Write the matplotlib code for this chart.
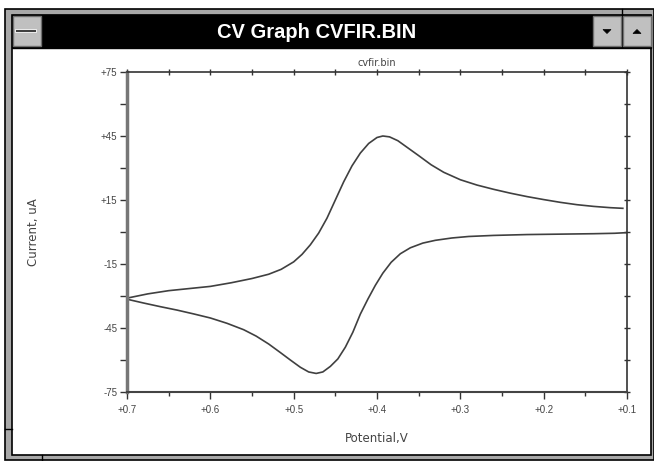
import matplotlib.pyplot as plt
from matplotlib.patches import Rectangle, Polygon
from matplotlib.ticker import FixedLocator, MultipleLocator

# Cyclic voltammogram, potential (V) vs current (uA)
upper_v = [0.700, 0.675, 0.650, 0.625, 0.600, 0.575, 0.550, 0.530, 0.515, 0.500,
           0.490, 0.480, 0.470, 0.460, 0.450, 0.440, 0.430, 0.420, 0.410, 0.400,
           0.393, 0.385, 0.375, 0.365, 0.350, 0.335, 0.320, 0.300, 0.280, 0.260,
           0.240, 0.220, 0.200, 0.180, 0.160, 0.140, 0.120, 0.105]
upper_i = [-31.0, -29.0, -27.5, -26.5, -25.5, -23.8, -21.8, -19.8, -17.5, -14.0,
           -10.5, -6.0, -0.5, 6.5, 15.0, 23.5, 31.0, 37.0, 41.5, 44.3,
           45.0, 44.6, 42.8, 40.0, 35.8, 31.5, 28.0, 24.5, 22.0, 20.0,
           18.2, 16.6, 15.2, 13.9, 12.8, 12.0, 11.4, 11.1]
lower_v = [0.100, 0.115, 0.140, 0.180, 0.220, 0.260, 0.290, 0.310, 0.330, 0.345,
           0.360, 0.372, 0.383, 0.393, 0.402, 0.411, 0.420, 0.429, 0.438, 0.447,
           0.456, 0.465, 0.473, 0.482, 0.492, 0.504, 0.516, 0.530, 0.545, 0.560,
           0.580, 0.600, 0.620, 0.640, 0.660, 0.680, 0.700]
lower_i = [-0.3, -0.6, -0.8, -1.0, -1.2, -1.6, -2.1, -2.8, -3.9, -5.2,
           -7.4, -10.2, -14.2, -19.3, -25.0, -31.5, -38.5, -47.0, -54.0, -59.5,
           -63.0, -65.6, -66.3, -65.6, -63.4, -60.0, -56.5, -52.5, -48.8, -45.8,
           -42.8, -40.3, -38.4, -36.6, -35.0, -33.3, -31.5]

y_ticks = [-75, -45, -15, 15, 45, 75]
y_tick_labels = ['-75', '-45', '-15', '+15', '+45', '+75']
x_ticks = [0.7, 0.6, 0.5, 0.4, 0.3, 0.2, 0.1]
x_tick_labels = ['+0.7', '+0.6', '+0.5', '+0.4', '+0.3', '+0.2', '+0.1']

W, H = 654, 461
fig = plt.figure(figsize=(W / 100, H / 100), dpi=100)

# window chrome drawn in pixel units
bg = fig.add_axes([0, 0, 1, 1])
bg.set_xlim(0, W)
bg.set_ylim(H, 0)
bg.axis('off')
bg.add_patch(Rectangle((5, 9.5), 649, 450, facecolor='#a8a8a8', edgecolor='black', lw=1.2))
bg.add_patch(Rectangle((11.5, 15.5), 639, 439, facecolor='white', edgecolor='black', lw=1.2))
bg.add_patch(Rectangle((11.5, 15.5), 639, 33, facecolor='black', edgecolor='black', lw=1))
# system menu box
bg.add_patch(Rectangle((12.5, 16.5), 28.5, 30, facecolor='#c0c0c0', edgecolor='#707070', lw=1))
bg.add_patch(Rectangle((15, 29.5), 21, 3, facecolor='#404040', edgecolor='white', lw=0.6))
# minimize / maximize buttons
for x0, up in [(593, False), (623, True)]:
    bg.add_patch(Rectangle((x0, 16.5), 27.5, 30, facecolor='#c0c0c0', edgecolor='#707070', lw=1))
    cx, cy = x0 + 14, 31.5
    if up:
        tri = [(cx - 4, cy + 2), (cx + 4, cy + 2), (cx, cy - 2)]
    else:
        tri = [(cx - 4, cy - 2), (cx + 4, cy - 2), (cx, cy + 2)]
    bg.add_patch(Polygon(tri, closed=True, facecolor='black', edgecolor='black', lw=0.5))
bg.plot([622, 622], [9.5, 15.5], color='black', lw=1)
bg.plot([5, 11.5], [429, 429], color='black', lw=1)
bg.plot([42, 42], [454.5, 459.5], color='black', lw=1)
bg.text(317, 32, 'CV Graph CVFIR.BIN', color='white', fontsize=14.5, fontweight='bold',
        family=['Liberation Sans Narrow', 'Liberation Sans'], ha='center', va='center')

# plot area
ax = fig.add_axes([127 / W, 1 - 392 / H, 500 / W, 320 / H])
ax.plot(upper_v, upper_i, color='#404040', lw=1.2)
ax.plot(lower_v, lower_i, color='#404040', lw=1.2)
ax.set_xlim(0.7, 0.1)
ax.set_ylim(-75, 75)
ax.set_facecolor('none')

ax.set_xticks(x_ticks)
ax.set_xticklabels(x_tick_labels)
ax.set_yticks(y_ticks)
ax.set_yticklabels(y_tick_labels)
ax.xaxis.set_minor_locator(FixedLocator([0.65, 0.55, 0.45, 0.35, 0.25, 0.15]))
ax.yaxis.set_minor_locator(FixedLocator([-60, -30, 0, 30, 60]))
ax.tick_params(axis='both', which='both', direction='out', color='#333333',
               labelsize=7, labelcolor='#444444', width=1)
ax.tick_params(axis='x', which='major', length=5, pad=4)
ax.tick_params(axis='x', which='minor', length=3)
ax.tick_params(axis='y', which='both', length=5, pad=2)
for lab in ax.get_xticklabels() + ax.get_yticklabels():
    lab.set_family('Liberation Sans')

ax.spines['left'].set_color('#777777')
ax.spines['left'].set_linewidth(2.5)
ax.spines['bottom'].set_color('#444444')
ax.spines['bottom'].set_linewidth(1.5)
for s in ['top', 'right']:
    ax.spines[s].set_color('#333333')
    ax.spines[s].set_linewidth(1.2)

top = ax.secondary_xaxis('top')
top.xaxis.set_major_locator(MultipleLocator(0.05))
top.tick_params(direction='inout', length=4, width=1, color='#333333', labeltop=False)
top.spines['top'].set_visible(False)
right = ax.secondary_yaxis('right')
right.yaxis.set_major_locator(MultipleLocator(15))
right.tick_params(direction='inout', length=5, width=1, color='#333333', labelright=False)
right.spines['right'].set_visible(False)

ax.set_title('cvfir.bin', fontsize=7, color='#444444', pad=4)
fig.text(33 / W, 1 - 232 / H, 'Current, uA', rotation=90, fontsize=8.5,
         color='#444444', ha='center', va='center')
fig.text(377 / W, 1 - 438 / H, 'Potential,V', fontsize=8.5,
         color='#444444', ha='center', va='center')

fig.savefig('out.png', dpi=100)
